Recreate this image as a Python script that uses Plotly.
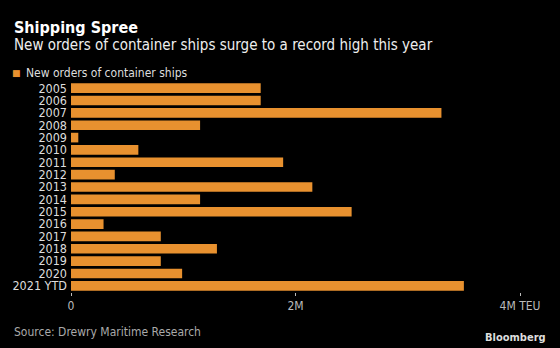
import plotly.graph_objects as go

years = ["2005", "2006", "2007", "2008", "2009", "2010", "2011", "2012", "2013",
         "2014", "2015", "2016", "2017", "2018", "2019", "2020", "2021 YTD"]
orders_teu = [1.69e6, 1.69e6, 3.30e6, 1.15e6, 0.065e6, 0.60e6, 1.89e6, 0.39e6, 2.15e6,
              1.15e6, 2.50e6, 0.29e6, 0.80e6, 1.30e6, 0.80e6, 0.99e6, 3.50e6]
series_name = "New orders of container ships"
x_tickvals = [0, 2e6, 4e6]
x_ticktext = ["0", "2M", "4M TEU"]

ORANGE = "#E8912F"
W, H = 560, 348
L, R, T, B = 71, 40, 82, 56
PW, PH = W - L - R, H - T - B

def px(x):
    return (x - L) / PW

def py(y):
    return (H - B - y) / PH

FONT = "DejaVu Sans Condensed, DejaVu Sans"

fig = go.Figure()
fig.add_trace(go.Bar(
    y=years, x=orders_teu, orientation="h", name=series_name,
    marker=dict(color=ORANGE, line=dict(width=0)),
    showlegend=False, hoverinfo="skip",
))

fig.update_layout(
    width=W, height=H,
    margin=dict(l=L, r=R, t=T, b=B, autoexpand=False),
    paper_bgcolor="black", plot_bgcolor="black",
    font=dict(family=FONT, color="#dddddd"),
    bargap=0.22,
    showlegend=False,
    xaxis=dict(
        range=[0, 4e6], tickmode="array", tickvals=x_tickvals, ticktext=x_ticktext,
        showgrid=False, zeroline=False, showline=False, automargin=False,
        ticks="outside", ticklen=3, tickcolor="#bbbbbb", tickwidth=1,
        tickfont=dict(size=12, color="#bbbbbb", family=FONT),
        fixedrange=True,
    ),
    yaxis=dict(
        autorange="reversed", showgrid=False, zeroline=False, showline=False,
        tickmode="array", tickvals=years, ticktext=years, automargin=False,
        tickfont=dict(size=12.5, color="#dddddd", family=FONT),
        ticks="", ticklabelstandoff=3, fixedrange=True,
    ),
    annotations=[
        dict(text="<b>Shipping Spree</b>", x=px(12), y=py(27), xref="paper", yref="paper",
             xanchor="left", yanchor="middle", showarrow=False,
             font=dict(size=16, color="white", family=FONT)),
        dict(text="New orders of container ships surge to a record high this year",
             x=px(12), y=py(45), xref="paper", yref="paper",
             xanchor="left", yanchor="middle", showarrow=False,
             font=dict(size=15, color="#eeeeee", family=FONT)),
        dict(text="■", x=px(16.5), y=py(73.5), xref="paper", yref="paper",
             xanchor="center", yanchor="middle", showarrow=False,
             font=dict(size=9, color=ORANGE, family="DejaVu Sans")),
        dict(text=series_name, x=px(24), y=py(73), xref="paper", yref="paper",
             xanchor="left", yanchor="middle", showarrow=False,
             font=dict(size=12, color="#dddddd", family=FONT)),
        dict(text="Source: Drewry Maritime Research", x=px(12), y=py(332),
             xref="paper", yref="paper", xanchor="left", yanchor="middle",
             showarrow=False, font=dict(size=12, color="#aaaaaa", family=FONT)),
        dict(text="<b>Bloomberg</b>", x=px(548), y=py(337), xref="paper", yref="paper",
             xanchor="right", yanchor="middle", showarrow=False,
             font=dict(size=11, color="#dddddd", family=FONT)),
    ],
)

fig.write_html("out.html", config={"displayModeBar": False})
